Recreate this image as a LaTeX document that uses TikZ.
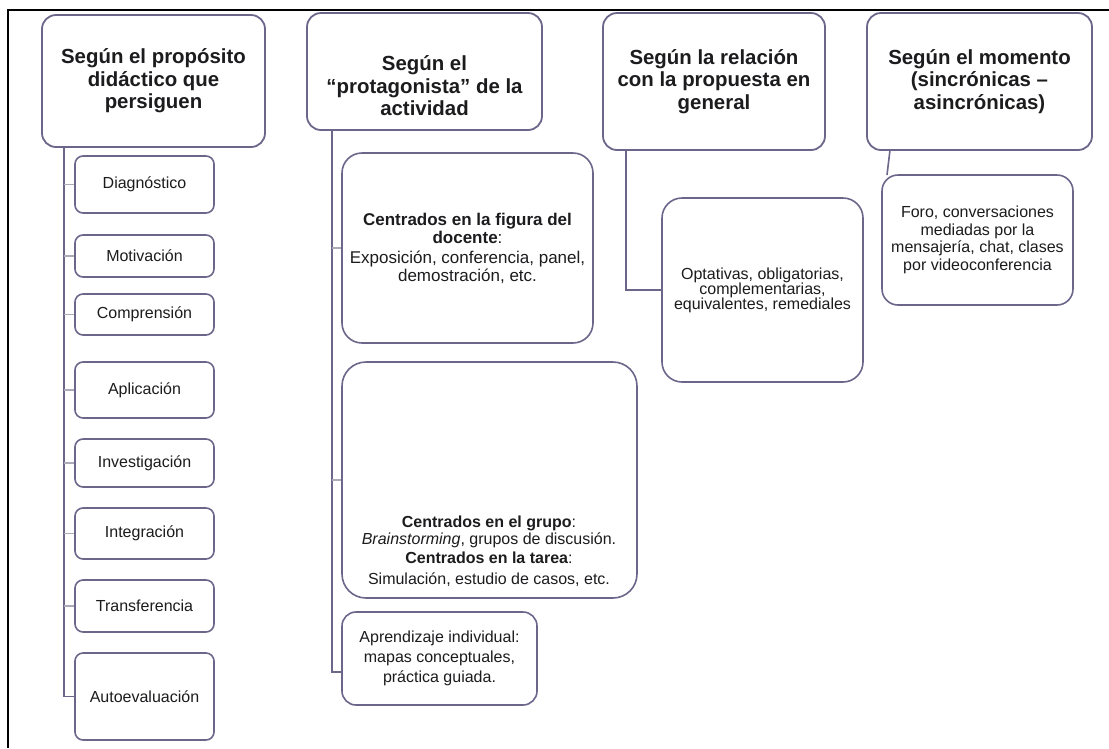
\documentclass[tikz,border=0pt]{standalone}
\usepackage{fontspec}
\setmainfont{Liberation Sans}
\usepackage{xcolor}
\usepackage{tikz}
\definecolor{bord}{RGB}{108,102,138}
\definecolor{gris}{RGB}{172,170,184}
\definecolor{texte}{RGB}{28,28,30}
\newcommand{\titrefont}{\fontsize{20.4}{22.5}\selectfont\bfseries}
\newcommand{\corpsfont}{\fontsize{16}{17}\selectfont}
\tikzstyle{titre}=[text=texte,font=\titrefont,align=center]
\tikzstyle{entete}=[rectangle,draw=bord,line width=1.8pt,rounded corners=14pt,fill=white,inner sep=0pt,titre]
\tikzstyle{petit}=[rectangle,draw=bord,line width=1.6pt,rounded corners=8pt,fill=white,inner sep=0pt,minimum width=139pt,text=texte,font=\corpsfont]
\tikzstyle{grand}=[rectangle,draw=bord,line width=1.6pt,rounded corners=20pt,fill=white,inner sep=0pt,text=texte,font=\corpsfont,align=center]
\tikzstyle{corps}=[text=texte,font=\corpsfont,align=center]
\tikzstyle{lien}=[draw=bord,line width=1.6pt]
\tikzstyle{tiret}=[draw=gris,line width=1.2pt]
\tikzstyle{cadre}=[draw=black,line width=2pt]

\begin{document}
\begin{tikzpicture}[x=1pt,y=-1pt]
\useasboundingbox (0,0) rectangle (1109,748);
\coordinate (c1) at (8,748);
\coordinate (c2) at (8,10);
\coordinate (c3) at (1109,10);
\draw[cadre] (c1) -- (c2) -- (c3);
%entetes
\node[entete,minimum width=223pt,minimum height=132pt] (h1) at (153.5,81) {Según el propósito\\didáctico que\\persiguen};
\node[entete,minimum width=235pt,minimum height=117pt] (h2) at (424.5,71.5) {};
\node[titre] (h2t) at (424.5,86) {Según el\\“protagonista” de la\\actividad};
\node[entete,minimum width=222pt,minimum height=137pt] (h3) at (714,81.5) {Según la relación\\con la propuesta en\\general};
\node[entete,minimum width=225pt,minimum height=137pt] (h4) at (979.5,81.5) {Según el momento\\(sincrónicas –\\asincrónicas)};
%colonne 1
\node[petit,minimum height=57pt] (diag) at (144.5,184.5) {Diagnóstico};
\node[petit,minimum height=42pt] (motiv) at (144.5,256) {Motivación};
\node[petit,minimum height=41pt] (compr) at (144.5,314.5) {Comprensión};
\node[petit,minimum height=56pt] (aplic) at (144.5,390) {Aplicación};
\node[petit,minimum height=48pt] (invest) at (144.5,463) {Investigación};
\node[petit,minimum height=51pt] (integr) at (144.5,533.5) {Integración};
\node[petit,minimum height=52pt] (transf) at (144.5,606) {Transferencia};
\node[petit,minimum height=87pt] (autoev) at (144.5,696.5) {Autoevaluación};
%colonne 2
\node[grand,minimum width=251pt,minimum height=190pt,font=\fontsize{17}{18}\selectfont] (docente) at (467.5,248) {\textbf{Centrados en la figura del}\\\textbf{docente}:\\[2pt]Exposición, conferencia, panel,\\demostración, etc.};
\node[grand,rounded corners=24pt,minimum width=295pt,minimum height=236pt] (grupo) at (489.5,480) {};
\node[corps] (grupot) at (489,551) {\textbf{Centrados en el grupo}:\\\textit{Brainstorming}, grupos de discusión.\\[2pt]\textbf{Centrados en la tarea}:\\[4pt]Simulación, estudio de casos, etc.};
\node[grand,rounded corners=14pt,minimum width=195pt,minimum height=93pt,font=\fontsize{16}{20}\selectfont] (indiv) at (439.5,658.5) {Aprendizaje individual:\\mapas conceptuales,\\práctica guiada.};
%colonnes 3 et 4
\node[grand,minimum width=201pt,minimum height=184pt,font=\fontsize{16}{15}\selectfont] (optat) at (762.5,290) {Optativas, obligatorias,\\complementarias,\\equivalentes, remediales};
\node[grand,rounded corners=16pt,minimum width=191pt,minimum height=130pt,font=\fontsize{16}{17.5}\selectfont] (foro) at (977.5,240) {Foro, conversaciones\\mediadas por la\\mensajería, chat, clases\\por videoconferencia};
%liens
\coordinate (t1) at (64,147);
\coordinate (t2) at (332,130);
\coordinate (t2b) at (332,672);
\coordinate (t3) at (626,150);
\coordinate (t4) at (890,150);
\coordinate (t4b) at (887,175);
\draw[lien] (t1) |- (autoev.west);
\draw[tiret] (diag.west -| t1) -- (diag.west);
\draw[tiret] (motiv.west -| t1) -- (motiv.west);
\draw[tiret] (compr.west -| t1) -- (compr.west);
\draw[tiret] (aplic.west -| t1) -- (aplic.west);
\draw[tiret] (invest.west -| t1) -- (invest.west);
\draw[tiret] (integr.west -| t1) -- (integr.west);
\draw[tiret] (transf.west -| t1) -- (transf.west);
\draw[lien] (t2) -- (t2b) -- (t2b -| indiv.west);
\draw[tiret] (docente.west -| t2) -- (docente.west);
\draw[tiret] (grupo.west -| t2) -- (grupo.west);
\draw[lien] (t3) |- (optat.west);
\draw[lien] (t4) -- (t4b);
\end{tikzpicture}
\end{document}
